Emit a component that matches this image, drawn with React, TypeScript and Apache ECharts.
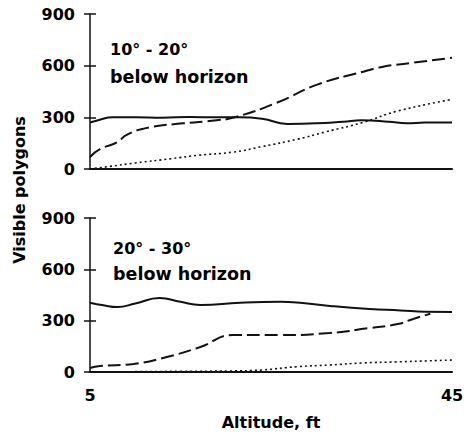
import React, { useEffect, useRef } from "react";
import * as echarts from "echarts";

const yTicks = [0, 300, 600, 900];
const xLabels = [5, 45];

const topSolid: [number, number][] = [
  [5, 270], [6, 285], [7.5, 300], [10, 300], [13, 298], [16, 302], [19, 300], [21.5, 300],
  [24, 292], [26.8, 262], [30, 265], [33, 275], [35, 283], [38, 275], [40, 265], [42, 270], [45, 270],
];
const topDashed: [number, number][] = [
  [5, 70], [6.1, 115], [8, 155], [9.1, 200], [11.6, 242], [15.3, 265], [19, 283], [21, 300],
  [25.7, 386], [30.1, 490], [35.2, 565], [37.4, 594], [40.7, 617], [45, 646],
];
const topDotted: [number, number][] = [
  [5, 0], [7.2, 15], [10, 35], [14, 60], [17, 80], [20.8, 98], [24, 130], [27.9, 173],
  [31, 215], [35.2, 271], [38.9, 335], [45, 404],
];
const bottomSolid: [number, number][] = [
  [5, 405], [6.5, 390], [8, 380], [10, 400], [12.7, 433], [15, 410], [17.2, 392], [21.6, 405],
  [26, 410], [28.5, 403], [31.5, 386], [35.9, 368], [39.3, 360], [42, 352], [45, 351],
];
const bottomDashed: [number, number][] = [
  [5, 23], [6.1, 35], [9.8, 47], [13.5, 88], [17.2, 146], [20.8, 216], [26, 216], [31.5, 228],
  [35.9, 257], [39, 280], [40.7, 310], [42.6, 340],
];
const bottomDotted: [number, number][] = [
  [5, 0], [10, 2], [15, 4], [20.5, 6], [24, 12], [27.9, 31], [31.5, 41], [35.2, 53],
  [38.9, 59], [45, 70],
];

const FONT = "DejaVu Sans";
const INK = "#111";

export default function App() {
  const ref = useRef<HTMLDivElement>(null);
  useEffect(() => {
    if (!ref.current) return;
    const chart = echarts.init(ref.current, null, { renderer: "svg" });
    const yAxisBase = (gridIndex: number) => ({
      gridIndex,
      type: "value" as const,
      min: 0,
      max: 900,
      interval: 300,
      axisLine: { show: true, lineStyle: { color: INK, width: 1.5 } },
      axisTick: { show: true, length: 6, lineStyle: { color: INK, width: 1.5 } },
      axisLabel: {
        show: true,
        margin: 15,
        color: "#000",
        fontFamily: FONT,
        fontWeight: "bold" as const,
        fontSize: 16,
        formatter: (v: number) => (yTicks.includes(v) ? String(v) : ""),
      },
      splitLine: { show: false },
    });
    const yAxisInner = (gridIndex: number) => ({
      gridIndex,
      type: "value" as const,
      position: "left" as const,
      min: 0,
      max: 900,
      interval: 300,
      axisLine: { show: false },
      axisTick: { show: true, inside: true, length: 6, lineStyle: { color: INK, width: 1.5 } },
      axisLabel: { show: false },
      splitLine: { show: false },
    });
    const xAxisBase = (gridIndex: number, labels: boolean) => ({
      gridIndex,
      type: "value" as const,
      min: 5,
      max: 45,
      interval: 5,
      axisLine: { show: true, onZero: true, lineStyle: { color: INK, width: 2 } },
      axisTick: { show: false },
      splitLine: { show: false },
      axisLabel: {
        show: labels,
        margin: 15,
        color: "#000",
        fontFamily: FONT,
        fontWeight: "bold" as const,
        fontSize: 16,
        formatter: (v: number) => (xLabels.includes(v) ? String(v) : ""),
      },
    });
    const line = (
      data: [number, number][],
      idx: number,
      type: "solid" | number[],
      width: number
    ) => ({
      type: "line" as const,
      xAxisIndex: idx,
      yAxisIndex: idx * 2,
      data,
      smooth: true,
      showSymbol: false,
      symbol: "none",
      lineStyle: { color: INK, width, type },
      silent: true,
    });
    const txt = (text: string, x: number, y: number, size: number, extra: any = {}) => ({
      type: "text",
      x,
      y,
      style: {
        text,
        fill: "#000",
        font: `bold ${size}px '${FONT}'`,
        textVerticalAlign: "middle",
        ...extra,
      },
    });
    chart.setOption({
      animation: false,
      backgroundColor: "#fff",
      grid: [
        { left: 90, top: 14, width: 362, height: 155 },
        { left: 90, top: 218, width: 362, height: 154 },
      ],
      xAxis: [xAxisBase(0, false), xAxisBase(1, true)],
      yAxis: [yAxisBase(0), yAxisInner(0), yAxisBase(1), yAxisInner(1)],
      series: [
        line(topSolid, 0, "solid", 2),
        line(topDashed, 0, [13, 5], 2),
        line(topDotted, 0, [2, 3], 1.6),
        line(bottomSolid, 1, "solid", 2),
        line(bottomDashed, 1, [13, 5], 2),
        line(bottomDotted, 1, [2, 3], 1.6),
      ],
      graphic: [
        txt("10° - 20°", 110, 49, 16),
        txt("below horizon", 110, 77, 17.5),
        txt("20° - 30°", 113, 248, 16),
        txt("below horizon", 113, 274, 17.5),
        txt("Altitude, ft", 271, 422, 16, { textAlign: "center" }),
        {
          type: "text",
          x: 19,
          y: 190,
          rotation: Math.PI / 2,
          style: {
            text: "Visible polygons",
            fill: "#000",
            font: `bold 16px '${FONT}'`,
            textAlign: "center",
            textVerticalAlign: "middle",
          },
        },
      ],
    });
    return () => chart.dispose();
  }, []);
  return (
    <div
      ref={ref}
      style={{ position: "absolute", left: 0, top: 0, width: 468, height: 442 }}
    />
  );
}
